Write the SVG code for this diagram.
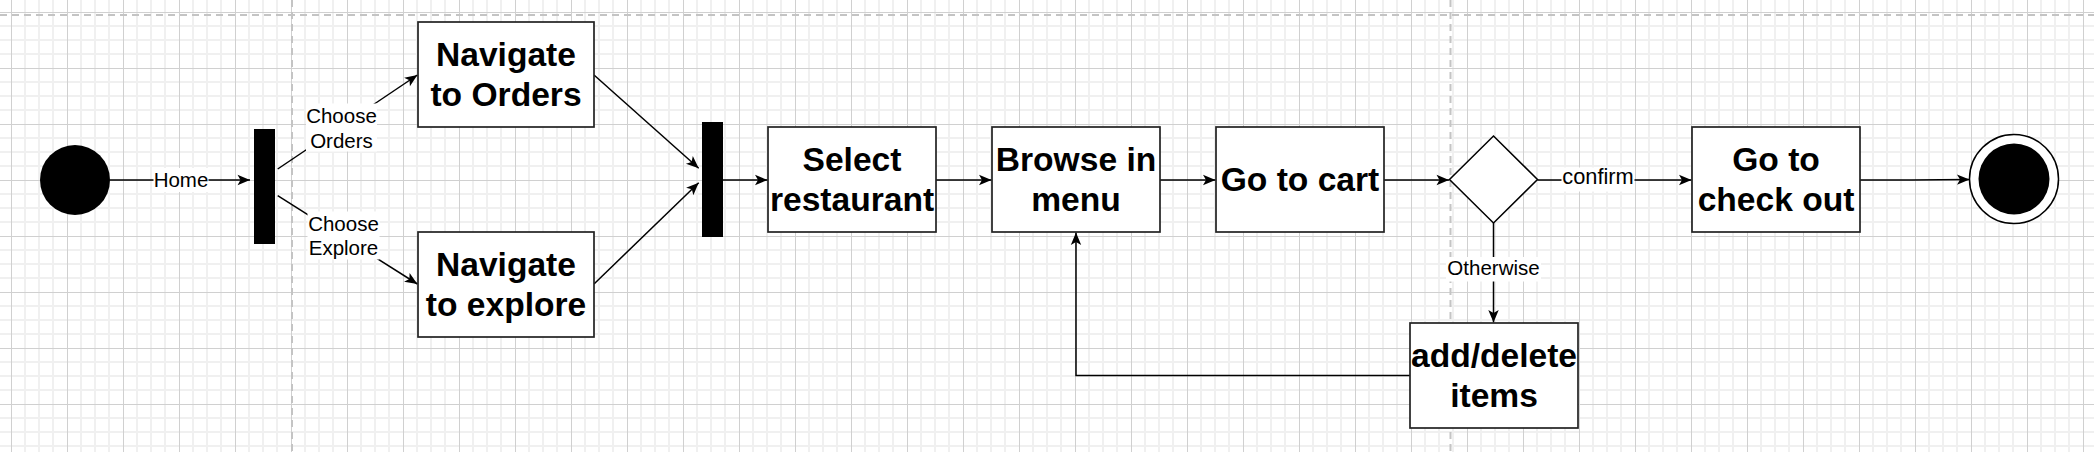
<svg xmlns="http://www.w3.org/2000/svg" width="2094" height="452" viewBox="0 0 2094 452">
  <defs>
    <pattern id="grid" x="11" y="12" width="56" height="56" patternUnits="userSpaceOnUse">
      <g stroke="#f0f0f0" stroke-width="2">
        <line x1="14" y1="0" x2="14" y2="56"/>
        <line x1="28" y1="0" x2="28" y2="56"/>
        <line x1="42" y1="0" x2="42" y2="56"/>
        <line x1="0" y1="14" x2="56" y2="14"/>
        <line x1="0" y1="28" x2="56" y2="28"/>
        <line x1="0" y1="42" x2="56" y2="42"/>
      </g>
      <g stroke="#d0d0d0" stroke-width="1">
        <line x1="0.5" y1="0" x2="0.5" y2="56"/>
        <line x1="0" y1="0.5" x2="56" y2="0.5"/>
      </g>
    </pattern>
    <marker id="arrow" markerWidth="14" markerHeight="12" refX="13" refY="6" orient="auto" markerUnits="userSpaceOnUse">
      <path d="M13,6 L0.5,0.8 L3.5,6 L0.5,11.2 Z" fill="#000"/>
    </marker>
  </defs>
  <style>
    .box { fill: #ffffff; stroke: #222222; stroke-width: 1.7; }
    .bt { font-family: "Liberation Sans", Arial, Helvetica, sans-serif; font-weight: bold; font-size: 33.6px; fill: #000; text-anchor: middle; }
    .lt { font-family: "Liberation Sans", Arial, Helvetica, sans-serif; font-size: 20.5px; fill: #000; text-anchor: middle; }
    .edge { fill: none; stroke: #000; stroke-width: 1.5; marker-end: url(#arrow); }
    .lbg { fill: #ffffff; }
    .pb { stroke: #c4c4c4; stroke-width: 2; stroke-dasharray: 7 5; fill: none; }
  </style>

  <rect x="0" y="0" width="2094" height="452" fill="#ffffff"/>
  <rect x="0" y="0" width="2094" height="452" fill="url(#grid)"/>
  <g id="page-breaks">
    <line class="pb" x1="0" y1="15" x2="2094" y2="15"/>
    <line class="pb" x1="292" y1="0" x2="292" y2="452"/>
    <line class="pb" x1="1450.5" y1="0" x2="1450.5" y2="452"/>
  </g>

  <g id="connectors">
    <path class="edge" d="M109.5,180 L250,180"/>
    <path class="edge" d="M277.7,169 L417.4,75"/>
    <path class="edge" d="M277.7,195.7 L417.4,284"/>
    <path class="edge" d="M594,75 L698.7,168.3"/>
    <path class="edge" d="M594,284 L698.7,182.7"/>
    <path class="edge" d="M723,180 L767.5,180"/>
    <path class="edge" d="M936,180 L991.5,180"/>
    <path class="edge" d="M1160,180 L1215.5,180"/>
    <path class="edge" d="M1384,180 L1449,180"/>
    <path class="edge" d="M1537.5,180 L1691.5,180"/>
    <path class="edge" d="M1860,180 L1912,180 L1969.5,179.5"/>
    <path class="edge" d="M1493.5,223 L1493.5,322.5"/>
    <path class="edge" d="M1410,375.5 L1076,375.5 L1076,232.5"/>

    <g id="label-home">
      <rect class="lbg" x="153.5" y="168" width="55" height="24"/>
      <text class="lt" x="181" y="186.7">Home</text>
    </g>
    <g id="label-choose-orders">
      <rect class="lbg" x="306" y="103.5" width="71" height="48"/>
      <text class="lt" x="341.5" y="123.3">Choose</text>
      <text class="lt" x="341.5" y="147.5">Orders</text>
    </g>
    <g id="label-choose-explore">
      <rect class="lbg" x="307.5" y="211.5" width="72" height="48"/>
      <text class="lt" x="343.5" y="231">Choose</text>
      <text class="lt" x="343.5" y="255.2">Explore</text>
    </g>
    <g id="label-confirm">
      <rect class="lbg" x="1561.5" y="167.5" width="73" height="24"/>
      <text class="lt" x="1598" y="183.5" style="font-size:21.8px">confirm</text>
    </g>
    <g id="label-otherwise">
      <rect class="lbg" x="1446" y="257" width="95" height="24.5"/>
      <text class="lt" x="1493.5" y="275">Otherwise</text>
    </g>
  </g>

  <g id="start">
    <circle cx="75" cy="180" r="35" fill="#000"/>
  </g>
  <g id="fork1">
    <rect x="254" y="129" width="21" height="115" fill="#000"/>
  </g>
  <g id="navigate-orders">
    <rect class="box" x="418" y="22" width="176" height="105"/>
    <text class="bt" x="506" y="65.9">Navigate</text>
    <text class="bt" x="506" y="106.2">to Orders</text>
  </g>
  <g id="navigate-explore">
    <rect class="box" x="418" y="232" width="176" height="105"/>
    <text class="bt" x="506" y="275.9">Navigate</text>
    <text class="bt" x="506" y="316.2">to explore</text>
  </g>
  <g id="fork2">
    <rect x="702" y="122" width="21" height="115" fill="#000"/>
  </g>
  <g id="select-restaurant">
    <rect class="box" x="768" y="127" width="168" height="105"/>
    <text class="bt" x="852" y="170.6">Select</text>
    <text class="bt" x="852" y="210.9">restaurant</text>
  </g>
  <g id="browse-menu">
    <rect class="box" x="992" y="127" width="168" height="105"/>
    <text class="bt" x="1076" y="170.6">Browse in</text>
    <text class="bt" x="1076" y="210.9">menu</text>
  </g>
  <g id="go-to-cart">
    <rect class="box" x="1216" y="127" width="168" height="105"/>
    <text class="bt" x="1300" y="190.8">Go to cart</text>
  </g>
  <g id="decision">
    <polygon points="1493.5,136 1537.5,179.5 1493.5,223 1449.5,179.5" fill="#ffffff" stroke="#000" stroke-width="1.5"/>
  </g>
  <g id="go-to-check-out">
    <rect class="box" x="1692" y="127" width="168" height="105"/>
    <text class="bt" x="1776" y="170.6">Go to</text>
    <text class="bt" x="1776" y="210.9">check out</text>
  </g>
  <g id="add-delete-items">
    <rect class="box" x="1410" y="323" width="168" height="105"/>
    <text class="bt" x="1494" y="366.6">add/delete</text>
    <text class="bt" x="1494" y="406.9">items</text>
  </g>
  <g id="end">
    <circle cx="2014" cy="179" r="44.5" fill="#ffffff" stroke="#000" stroke-width="1.5"/>
    <circle cx="2014" cy="179" r="35.5" fill="#000"/>
  </g>
</svg>
